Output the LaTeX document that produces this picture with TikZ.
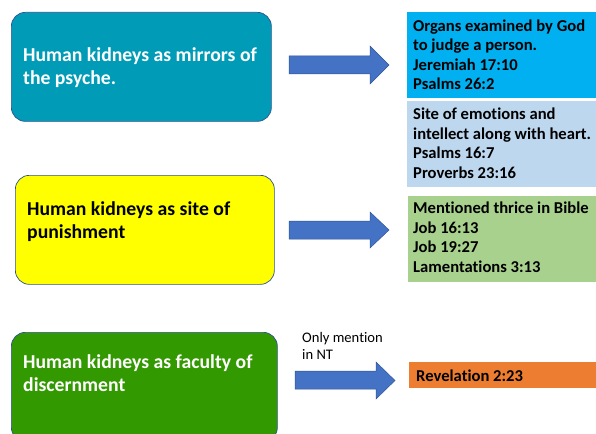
\documentclass[tikz,border=0pt]{standalone}
\usepackage{fontspec}
\setmainfont[Ligatures=NoCommon]{Carlito}
\definecolor{tealbox}{RGB}{0,156,183}
\definecolor{boxedge}{RGB}{47,82,143}
\definecolor{brightblue}{RGB}{0,176,240}
\definecolor{paleblue}{RGB}{189,215,238}
\definecolor{palegreen}{RGB}{169,209,142}
\definecolor{darkgreen}{RGB}{51,153,0}
\definecolor{orangebox}{RGB}{237,125,49}
\definecolor{arrowblue}{RGB}{68,114,196}
\definecolor{arrowedge}{RGB}{47,85,151}
\definecolor{pureyellow}{RGB}{255,255,0}
\begin{document}
\begin{tikzpicture}[x=1pt,y=-1pt,
  leftbox/.style={draw=boxedge, line width=0.7pt, rounded corners=14pt, anchor=north west, inner sep=0pt, minimum height=109pt},
  refbox/.style={draw=none, anchor=north west, inner sep=0pt},
  boxtext/.style={anchor=north west, inner sep=0pt, align=left, font=\bfseries\fontsize{19.7}{23}\selectfont},
  reftext/.style={anchor=north west, inner sep=0pt, align=left, font=\bfseries\fontsize{16.6}{19.5}\selectfont},
  notetext/.style={anchor=north west, inner sep=0pt, align=left, font=\fontsize{14.6}{16.3}\selectfont},
  blockarrow/.style={fill=arrowblue, draw=arrowedge, line width=0.5pt}
]
\useasboundingbox (0,0) rectangle (596,433);

% left boxes
\node[leftbox, fill=tealbox, minimum width=260pt] (mirror) at (11,12) {};
\node[leftbox, fill=pureyellow, minimum width=259pt] (punish) at (15,175) {};
\node[leftbox, fill=darkgreen, minimum width=266pt] (discern) at (11,332) {};

\node[boxtext, text=white] (mirrortext) at (23,45) {\rule{0pt}{16pt}Human kidneys as mirrors of\\the psyche.};
\node[boxtext, text=black] (punishtext) at (27,199) {\rule{0pt}{16pt}Human kidneys as site of\\punishment};
\node[boxtext, text=white] (discerntext) at (23,352) {\rule{0pt}{16pt}Human kidneys as faculty of\\discernment};

% right boxes
\node[refbox, fill=brightblue, minimum width=192pt, minimum height=86pt] (organs) at (407,12) {};
\node[refbox, fill=paleblue, minimum width=192pt, minimum height=86pt] (emotions) at (407,101) {};
\node[refbox, fill=palegreen, minimum width=191pt, minimum height=86pt] (thrice) at (408,196) {};
\node[refbox, fill=orangebox, minimum width=190pt, minimum height=26pt] (revel) at (409,362) {};

\node[reftext] (organstext) at (413,17) {\rule{0pt}{14pt}Organs examined by God\\to judge a person.\\Jeremiah 17:10\\Psalms 26:2};
\node[reftext] (emotionstext) at (413,105.3) {\rule{0pt}{14pt}Site of emotions and\\intellect along with heart.\\Psalms 16:7\\Proverbs 23:16};
\node[reftext] (thricetext) at (413,199.3) {\rule{0pt}{14pt}Mentioned thrice in Bible\\Job 16:13\\Job 19:27\\Lamentations 3:13};
\node[reftext] (reveltext) at (416,367.7) {\rule{0pt}{14pt}Revelation 2:23};

\node[notetext] (note) at (302,330.7) {\rule{0pt}{12pt}Only mention\\in NT};

% block arrows
\draw[blockarrow] (289,56) -- (370,56) -- (370,46) -- (389,65) -- (370,84) -- (370,74) -- (289,74) -- cycle;
\draw[blockarrow] (289,221) -- (370,221) -- (370,212) -- (389,230) -- (370,248) -- (370,239) -- (289,239) -- cycle;
\draw[blockarrow] (295,371) -- (376,371) -- (376,362) -- (395,380.5) -- (376,399) -- (376,389) -- (295,389) -- cycle;
\end{tikzpicture}
\end{document}
